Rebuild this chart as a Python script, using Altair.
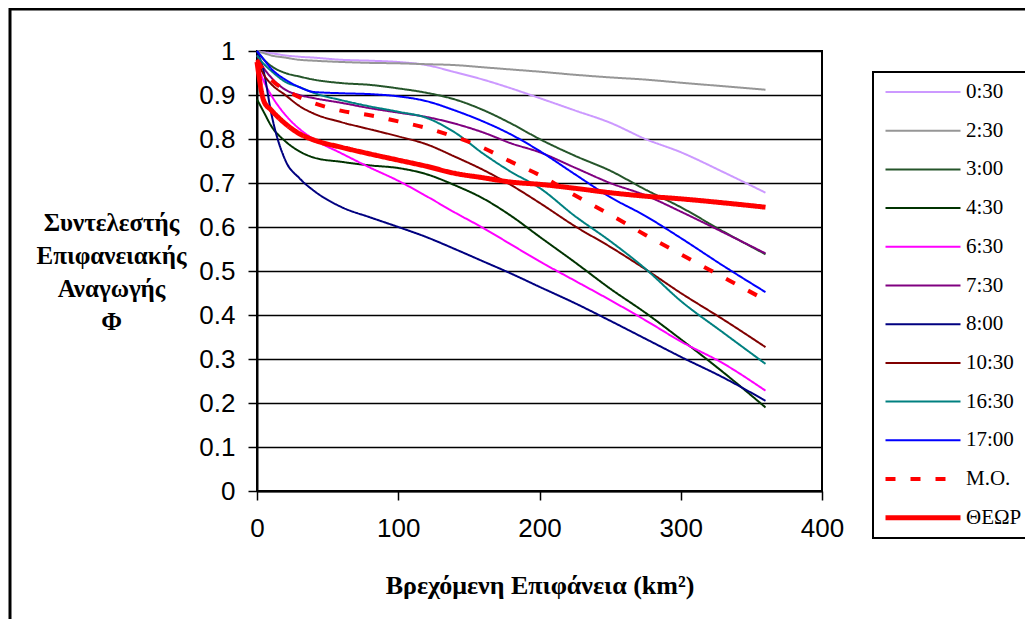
import altair as alt
import pandas as pd

# x values (km^2)
area_km2 = [0, 5, 10, 20, 30, 40, 60, 80, 100, 120, 140, 160, 180, 200, 225, 250, 275, 300, 330, 360]

series_names = ["0:30", "2:30", "3:00", "4:30", "6:30", "7:30", "8:00", "10:30", "16:30", "17:00", "Μ.Ο.", "ΘΕΩΡ"]
series_colors = ["#CC99FF", "#969696", "#25552A", "#003300", "#FF00FF", "#800080", "#000080", "#800000", "#008080", "#0000FF", "#FF0000", "#FF0000"]
series_dash = [[1, 0]] * 10 + [[10, 15], [1, 0]]
series_width = [2, 2, 2, 2, 2, 2, 2, 2, 2, 2, 4, 5]

phi_0030 = [1.0, 0.997, 0.995, 0.99, 0.987, 0.985, 0.98, 0.978, 0.975, 0.968, 0.952, 0.935, 0.915, 0.893, 0.865, 0.837, 0.80, 0.77, 0.725, 0.678]
phi_0230 = [1.0, 0.995, 0.99, 0.985, 0.98, 0.978, 0.975, 0.973, 0.972, 0.97, 0.968, 0.963, 0.958, 0.953, 0.946, 0.94, 0.935, 0.928, 0.92, 0.912]
phi_0300 = [1.0, 0.98, 0.966, 0.95, 0.942, 0.935, 0.927, 0.923, 0.915, 0.905, 0.89, 0.866, 0.835, 0.80, 0.762, 0.728, 0.685, 0.645, 0.59, 0.538]
phi_0430 = [0.89, 0.86, 0.83, 0.795, 0.772, 0.758, 0.748, 0.74, 0.734, 0.72, 0.695, 0.665, 0.625, 0.578, 0.52, 0.46, 0.405, 0.345, 0.27, 0.19]
phi_0630 = [0.97, 0.93, 0.9, 0.855, 0.823, 0.80, 0.767, 0.735, 0.705, 0.67, 0.633, 0.598, 0.56, 0.522, 0.478, 0.434, 0.388, 0.34, 0.29, 0.228]
phi_0730 = [0.99, 0.96, 0.94, 0.912, 0.90, 0.893, 0.882, 0.87, 0.86, 0.85, 0.835, 0.815, 0.79, 0.77, 0.735, 0.70, 0.672, 0.635, 0.588, 0.54]
phi_0800 = [1.0, 0.95, 0.86, 0.752, 0.711, 0.683, 0.645, 0.622, 0.60, 0.577, 0.55, 0.522, 0.494, 0.464, 0.427, 0.387, 0.346, 0.305, 0.258, 0.205]
phi_1030 = [0.98, 0.945, 0.925, 0.90, 0.875, 0.858, 0.838, 0.822, 0.806, 0.788, 0.76, 0.73, 0.695, 0.655, 0.602, 0.555, 0.504, 0.45, 0.39, 0.327]
phi_1630 = [0.99, 0.97, 0.955, 0.93, 0.918, 0.905, 0.888, 0.874, 0.862, 0.848, 0.815, 0.767, 0.725, 0.689, 0.625, 0.568, 0.505, 0.432, 0.36, 0.289]
phi_1700 = [1.0, 0.98, 0.96, 0.935, 0.918, 0.907, 0.904, 0.902, 0.897, 0.886, 0.865, 0.84, 0.81, 0.773, 0.72, 0.668, 0.625, 0.575, 0.512, 0.452]
phi_mean = [0.98, 0.955, 0.935, 0.912, 0.895, 0.882, 0.864, 0.854, 0.84, 0.825, 0.805, 0.78, 0.748, 0.718, 0.672, 0.628, 0.582, 0.538, 0.486, 0.434]
phi_theory = [0.975, 0.885, 0.866, 0.835, 0.812, 0.798, 0.781, 0.766, 0.752, 0.738, 0.722, 0.712, 0.702, 0.697, 0.688, 0.678, 0.67, 0.664, 0.655, 0.645]

y_ticks = [0, 0.1, 0.2, 0.3, 0.4, 0.5, 0.6, 0.7, 0.8, 0.9, 1]
x_ticks = [0, 100, 200, 300, 400]

all_series = [phi_0030, phi_0230, phi_0300, phi_0430, phi_0630, phi_0730,
              phi_0800, phi_1030, phi_1630, phi_1700, phi_mean, phi_theory]

rows = []
for name, vals in zip(series_names, all_series):
    for xv, yv in zip(area_km2, vals):
        rows.append({"series": name, "area": xv, "phi": yv})
df = pd.DataFrame(rows)

legend = alt.Legend(
    title=None, orient="none", legendX=616, legendY=21,
    symbolType="stroke", symbolSize=5625, clipHeight=20,
    labelFont="Liberation Serif", labelFontSize=21, labelColor="black",
    labelOffset=3, rowPadding=17.7, padding=10, strokeColor="black",
)

lines = alt.Chart(df).mark_line(interpolate="monotone", strokeCap="butt").encode(
    x=alt.X("area:Q", scale=alt.Scale(domain=[0, 400], nice=False),
            axis=alt.Axis(values=x_ticks, grid=False, title="Βρεχόμενη Επιφάνεια (km²)",
                          titleFont="Liberation Serif", titleFontWeight="bold", titleFontSize=26,
                          titleColor="black", titleBaseline="alphabetic", titleY=102,
                          labelPadding=15, labelFlush=False, labelOverlap=False)),
    y=alt.Y("phi:Q", scale=alt.Scale(domain=[0, 1], nice=False),
            axis=alt.Axis(values=y_ticks, format="~g", grid=True,
                          title=["Συντελεστής", "Επιφανειακής", "Αναγωγής", "Φ"],
                          titleAngle=0, titleAlign="center", titleBaseline="middle",
                          titleX=-146, titleY=171, titleLineHeight=33,
                          titleFont="Liberation Serif", titleFontWeight="bold", titleFontSize=25,
                          titleColor="black", labelPadding=13, labelFlush=False, labelOverlap=False)),
    color=alt.Color("series:N", scale=alt.Scale(domain=series_names, range=series_colors), legend=legend),
    strokeDash=alt.StrokeDash("series:N", scale=alt.Scale(domain=series_names, range=series_dash), legend=legend),
    strokeWidth=alt.StrokeWidth("series:N", scale=alt.Scale(type="ordinal", domain=series_names, range=series_width), legend=legend),
)

border = alt.Chart(pd.DataFrame({"a": [0]})).mark_rect(fillOpacity=0, stroke="black", strokeWidth=3).encode(
    x=alt.value(-247), y=alt.value(-42), x2=alt.value(900), y2=alt.value(700)
)

chart = alt.layer(border, lines).properties(
    width=565, height=440,
    autosize=alt.AutoSizeParams(type="none"),
    padding={"left": 249, "top": 43, "right": 203, "bottom": 128},
).configure_view(stroke="black", strokeWidth=2).configure_axis(
    domainColor="black", domainWidth=2, tickColor="black", tickWidth=1.5, tickSize=9,
    labelFont="Liberation Sans", labelFontSize=26, labelColor="black",
    gridColor="black", gridWidth=1.5, gridOpacity=1,
).configure_legend(strokeWidth=2)

chart.save("out.html", embed_options={"renderer": "svg", "actions": False})
